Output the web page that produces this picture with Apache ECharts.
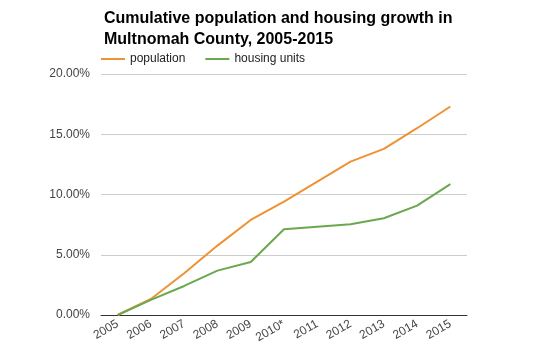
<!DOCTYPE html>
<html>
<head>
<meta charset="utf-8">
<script src="https://cdn.jsdelivr.net/npm/echarts@6/dist/echarts.min.js"></script>
<style>html,body{margin:0;padding:0;background:#fff}#c{width:540px;height:356px}</style>
</head>
<body>
<div id="c"></div>
<script>
var years = ['2005','2006','2007','2008','2009','2010*','2011','2012','2013','2014','2015'];
var population = [0, 1.33, 3.46, 5.76, 7.89, 9.41, 11.07, 12.73, 13.79, 15.5, 17.3];
var housingUnits = [0, 1.25, 2.41, 3.68, 4.4, 7.12, 7.33, 7.53, 8.03, 9.08, 10.86];
var yTicks = [0, 5, 10, 15, 20];

var chart = echarts.init(document.getElementById('c'), null, {renderer: 'canvas'});
var font = '"Liberation Sans", Arial, sans-serif';
chart.setOption({
  animation: false,
  backgroundColor: '#fff',
  title: {
    text: 'Cumulative population and housing growth in\nMultnomah County, 2005-2015',
    left: 99, top: 3,
    textStyle: {fontFamily: font, fontSize: 16, fontWeight: 'bold', color: '#000', lineHeight: 21}
  },
  legend: {
    left: 96, top: 48,
    icon: 'rect', itemWidth: 24, itemHeight: 2, itemGap: 20,
    textStyle: {fontFamily: font, fontSize: 12, color: '#222'},
    data: ['population', 'housing units']
  },
  grid: {left: 101, right: 73, top: 74, bottom: 41},
  xAxis: {
    type: 'category', data: years, boundaryGap: true,
    axisTick: {show: false},
    axisLine: {lineStyle: {color: '#333', width: 1}},
    axisLabel: {rotate: 30, fontFamily: font, fontSize: 12, color: '#444', margin: 8, interval: 0}
  },
  yAxis: {
    type: 'value', min: yTicks[0], max: yTicks[yTicks.length - 1], interval: 5,
    axisLine: {show: false}, axisTick: {show: false},
    splitLine: {lineStyle: {color: '#ccc'}},
    axisLabel: {fontFamily: font, fontSize: 12, color: '#444', margin: 11,
      formatter: function (v) { return v.toFixed(2) + '%'; }}
  },
  series: [
    {name: 'population', type: 'line', data: population, symbol: 'none',
     lineStyle: {color: '#ef9234', width: 2}, itemStyle: {color: '#ef9234'}},
    {name: 'housing units', type: 'line', data: housingUnits, symbol: 'none',
     lineStyle: {color: '#6aa84f', width: 2}, itemStyle: {color: '#6aa84f'}}
  ]
});
</script>
</body>
</html>
